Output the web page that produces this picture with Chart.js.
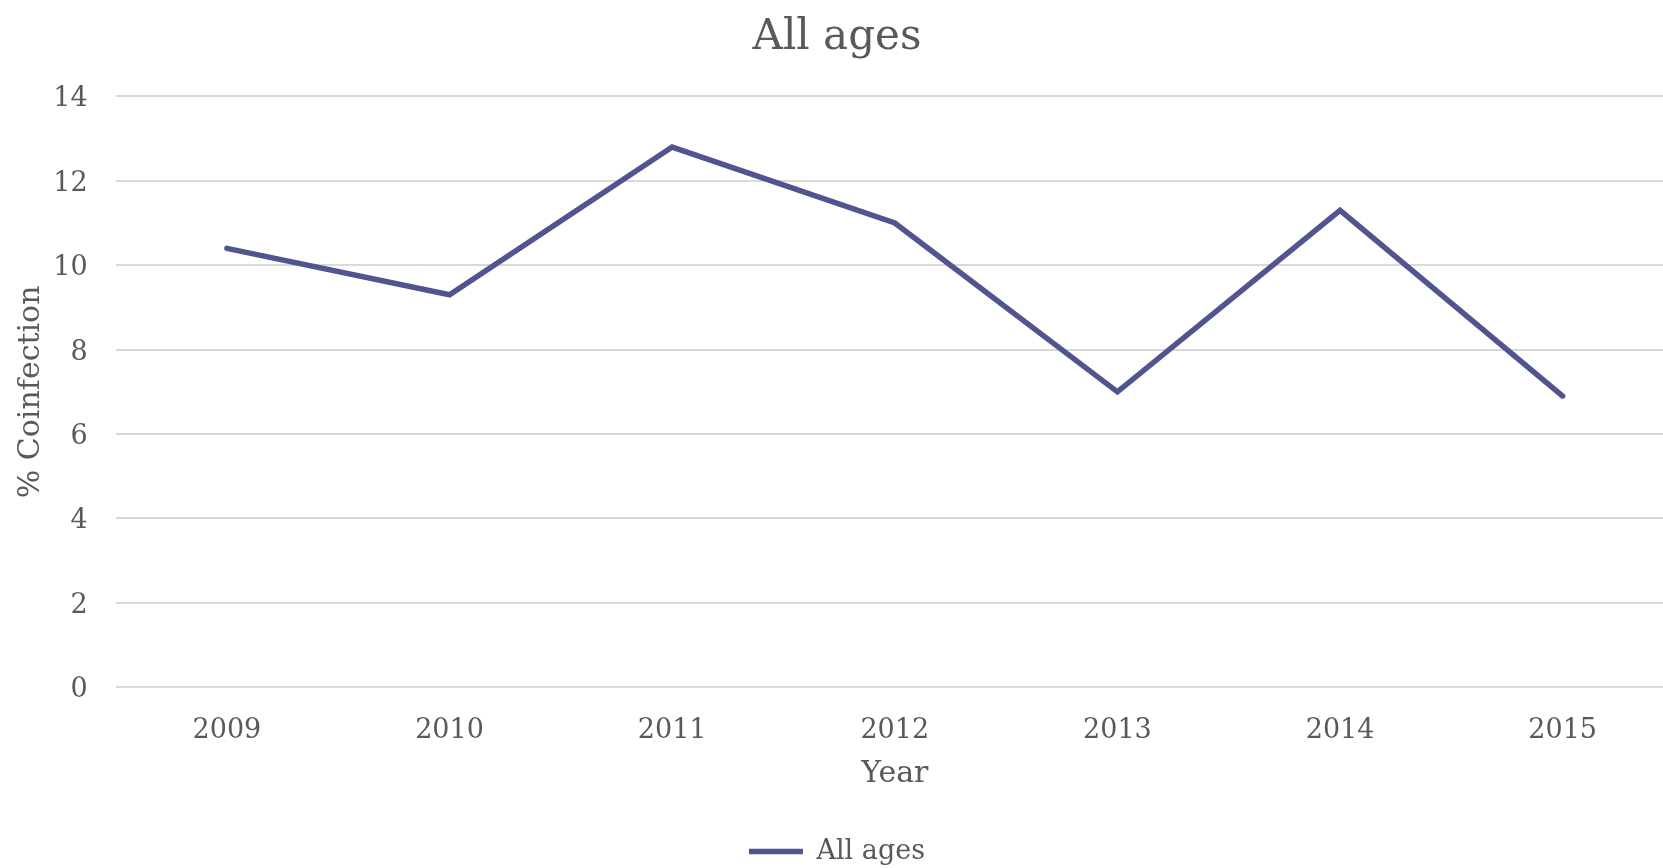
<!DOCTYPE html>
<html>
<head>
<meta charset="utf-8">
<script src="https://cdn.jsdelivr.net/npm/chart.js@4/dist/chart.umd.min.js"></script>
<style>
  html, body { margin: 0; padding: 0; background: #ffffff; overflow: hidden; width: 1663px; height: 868px; }
  canvas { display: block; }
</style>
</head>
<body>
<canvas id="c" width="1674" height="875"></canvas>
<script>
const chartTitle = 'All ages';
const years = ['2009', '2010', '2011', '2012', '2013', '2014', '2015'];
const coinfection = [10.4, 9.3, 12.8, 11.0, 7.0, 11.3, 6.9];
const seriesName = 'All ages';
const xAxisTitle = 'Year';
const yAxisTitle = '% Coinfection';
const yMin = 0, yMax = 14, yStep = 2;

const textColor = '#595959';
const lineColor = '#50548f';
const gridColor = '#d9d9d9';
const fontFamily = '"DejaVu Serif", "Liberation Serif", serif';

new Chart(document.getElementById('c'), {
  type: 'line',
  data: {
    labels: years,
    datasets: [{
      label: seriesName,
      data: coinfection,
      borderColor: lineColor,
      backgroundColor: lineColor,
      borderWidth: 5.5,
      borderCapStyle: 'round',
      borderJoinStyle: 'miter',
      pointRadius: 0,
      pointHoverRadius: 0,
      tension: 0,
      fill: false
    }]
  },
  options: {
    responsive: false,
    animation: false,
    devicePixelRatio: 1,
    layout: { padding: 0 },
    plugins: {
      tooltip: { enabled: false },
      title: {
        display: true,
        text: chartTitle,
        color: textColor,
        font: { family: fontFamily, size: 42, weight: 'normal' },
        padding: { top: 13, bottom: 33 }
      },
      legend: {
        display: true,
        position: 'bottom',
        labels: {
          color: textColor,
          font: { family: fontFamily, size: 27 },
          usePointStyle: true,
          pointStyle: 'line',
          pointStyleWidth: 54,
          padding: 46
        }
      }
    },
    scales: {
      x: {
        offset: true,
        grid: { display: false, drawTicks: false },
        border: { display: false },
        ticks: {
          color: textColor,
          font: { family: fontFamily, size: 27 },
          padding: 27,
          maxRotation: 0
        },
        title: {
          display: true,
          text: xAxisTitle,
          color: textColor,
          font: { family: fontFamily, size: 30 },
          padding: 0
        },
        afterFit: (s) => { s.height = 104.7; }
      },
      y: {
        min: yMin,
        max: yMax,
        grid: { color: gridColor, lineWidth: 2, drawTicks: false },
        border: { display: false },
        ticks: {
          stepSize: yStep,
          color: textColor,
          font: { family: fontFamily, size: 27 },
          padding: 28,
          labelOffset: 3
        },
        title: {
          display: true,
          text: yAxisTitle,
          color: textColor,
          font: { family: fontFamily, size: 30 },
          padding: { top: 13, bottom: 0 }
        },
        afterFit: (s) => { s.width = 115.6; }
      }
    }
  }
});
</script>
</body>
</html>
